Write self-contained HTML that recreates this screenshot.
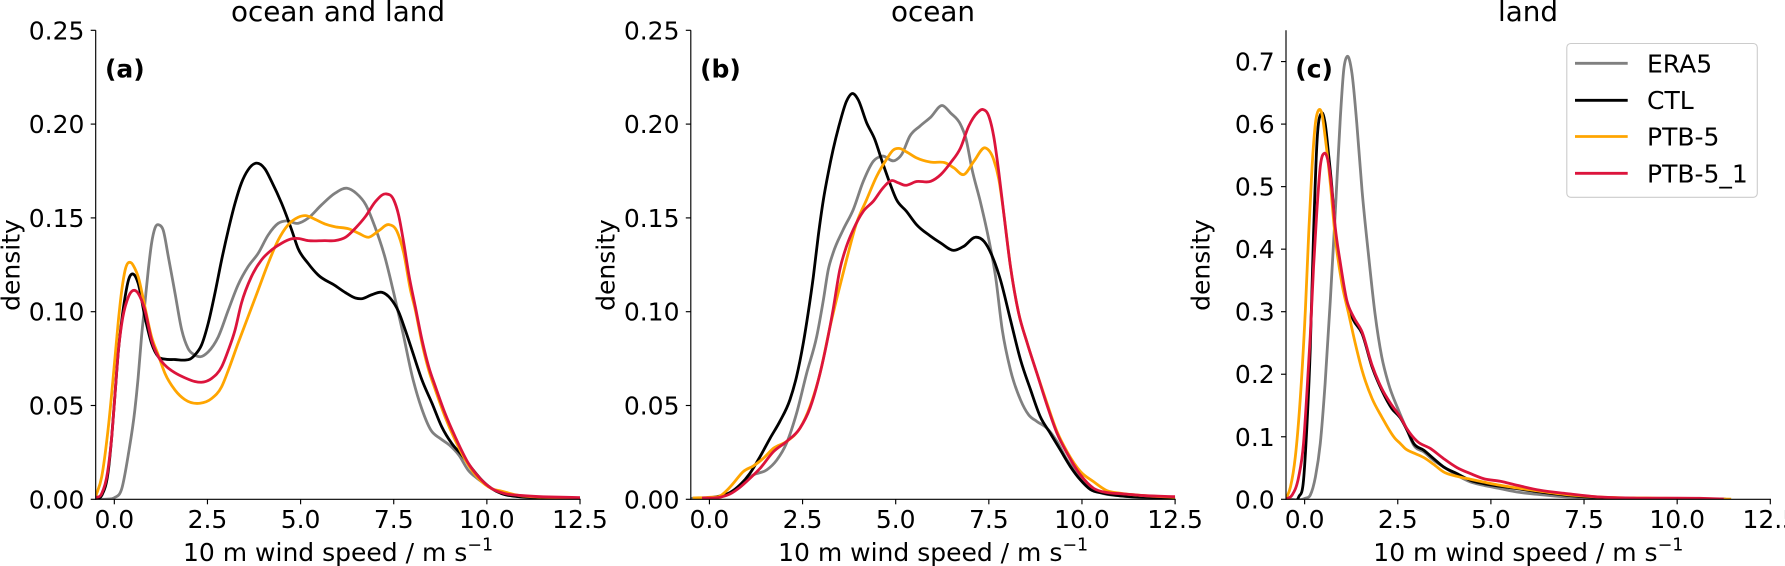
<!DOCTYPE html>
<html lang="en">
<head>
<meta charset="utf-8">
<title>10 m wind speed density</title>
<style>
html,body{margin:0;padding:0;background:#fff;width:1785px;height:566px;overflow:hidden}
svg{display:block}
text{font-family:"DejaVu Sans","Liberation Sans",sans-serif;fill:#000}
</style>
</head>
<body>
<svg id="chart" xmlns="http://www.w3.org/2000/svg" width="1785" height="566" viewBox="0 0 1785 566">
  <rect x="0" y="0" width="1785" height="566" fill="#fff"/>
  <g id="panel-a">
    <text x="338" y="21" font-size="27.8" text-anchor="middle">ocean and land</text>
    <text x="105" y="77.7" font-size="25" font-weight="bold">(a)</text>
    <text transform="translate(19.5,265) rotate(-90)" font-size="25" text-anchor="middle">density</text>
    <text x="183" y="561" font-size="25">10 m wind speed / m s</text>
    <text x="467.3" y="550.7" font-size="17.5">−1</text>
  </g>
  <g id="panel-b">
    <text x="933" y="21" font-size="27.8" text-anchor="middle">ocean</text>
    <text x="700.1" y="77.7" font-size="25" font-weight="bold">(b)</text>
    <text transform="translate(614.5,265) rotate(-90)" font-size="25" text-anchor="middle">density</text>
    <text x="778.1" y="561" font-size="25">10 m wind speed / m s</text>
    <text x="1062.4" y="550.7" font-size="17.5">−1</text>
  </g>
  <g id="panel-c">
    <text x="1528" y="21" font-size="27.8" text-anchor="middle">land</text>
    <text x="1295.3" y="77.7" font-size="25" font-weight="bold">(c)</text>
    <text transform="translate(1209.7,265) rotate(-90)" font-size="25" text-anchor="middle">density</text>
    <text x="1373.3" y="561" font-size="25">10 m wind speed / m s</text>
    <text x="1657.6" y="550.7" font-size="17.5">−1</text>
  </g>
  <g id="legend">
    <rect x="1566.8" y="43.5" width="190.5" height="153.8" rx="4" ry="4" fill="#fff" fill-opacity="0.8" stroke="#ccc" stroke-width="1.1"/>
    <line x1="1575" x2="1627.7" y1="63.3" y2="63.3" stroke="#808080" stroke-width="2.8"/>
    <text x="1647" y="72.3" font-size="25">ERA5</text>
    <line x1="1575" x2="1627.7" y1="100.3" y2="100.3" stroke="#000" stroke-width="2.8"/>
    <text x="1647" y="109" font-size="25">CTL</text>
    <line x1="1575" x2="1627.7" y1="136.5" y2="136.5" stroke="#ffa500" stroke-width="2.8"/>
    <text x="1647" y="145.5" font-size="25">PTB-5</text>
    <line x1="1575" x2="1627.7" y1="173.3" y2="173.3" stroke="#dc143c" stroke-width="2.8"/>
    <text x="1647" y="182.3" font-size="25">PTB-5_1</text>
  </g>
</svg>
<script>
// ---- Tick labels ----
const xTickLabels = ["0.0","2.5","5.0","7.5","10.0","12.5"];
const yTickLabelsDensityWide = ["0.00","0.05","0.10","0.15","0.20","0.25"];
const yTickLabelsDensityTall = ["0.0","0.1","0.2","0.3","0.4","0.5","0.6","0.7"];

// ---- Panel (a) ocean and land ----
const aEra5X = [-0.5,-0.2,0,0.2,0.38,0.55,0.64,0.73,0.82,0.91,1.0,1.09,1.21,1.31,1.45,1.63,1.81,1.98,2.16,2.31,2.52,2.79,3.06,3.32,3.59,3.86,4.13,4.4,4.62,4.93,5.2,5.56,5.92,6.25,6.5,6.75,7,7.25,7.5,7.75,8,8.25,8.5,8.75,9,9.25,9.5,9.75,10,10.25,10.5,11,11.5,12.5];
const aEra5Y = [0,0.0001,0.0008,0.0057,0.0244,0.0475,0.065,0.0866,0.1044,0.122,0.1365,0.1445,0.1462,0.1436,0.1293,0.1098,0.0902,0.0804,0.0769,0.076,0.0786,0.0866,0.1009,0.1142,0.124,0.1311,0.1409,0.1471,0.1484,0.1471,0.1498,0.1569,0.1631,0.1658,0.163,0.157,0.145,0.13,0.11,0.0884,0.0653,0.0484,0.0368,0.0324,0.0288,0.0235,0.0155,0.011,0.0075,0.0044,0.0025,0.0012,0.0006,0.0002];
const aCtlX = [-0.5,-0.34,-0.16,-0.07,0.02,0.11,0.2,0.29,0.38,0.52,0.64,0.82,1,1.18,1.36,1.63,1.89,2.03,2.16,2.34,2.52,2.7,2.88,3.06,3.24,3.41,3.59,3.82,4.04,4.22,4.49,4.76,4.93,5.2,5.47,5.92,6.21,6.47,6.63,6.92,7.19,7.41,7.63,7.81,7.99,8.26,8.53,8.79,9.06,9.33,9.6,9.87,10.13,10.4,10.76,11.3,12.5];
const aCtlY = [0.0004,0.002,0.0155,0.0333,0.0564,0.0795,0.0955,0.108,0.1169,0.1199,0.1151,0.0973,0.0831,0.076,0.0747,0.0745,0.0742,0.0747,0.0769,0.0822,0.0938,0.1098,0.1276,0.1436,0.1578,0.1685,0.1756,0.1792,0.1762,0.1695,0.1578,0.1436,0.1338,0.1258,0.1196,0.114,0.1101,0.1073,0.1069,0.1091,0.1103,0.1071,0.1,0.0902,0.0795,0.0635,0.0511,0.0386,0.0297,0.0235,0.0164,0.0101,0.0057,0.003,0.0016,0.0009,0.0004];
const aPtb5X = [-0.5,-0.34,-0.16,0.02,0.11,0.2,0.29,0.45,0.55,0.64,0.82,1,1.18,1.36,1.63,1.89,2.3,2.61,2.88,3.06,3.32,3.59,3.86,4.13,4.4,4.66,4.93,5.14,5.38,5.65,5.92,6.3,6.56,6.83,7.1,7.37,7.59,7.77,7.95,8.08,8.26,8.44,8.62,8.88,9.15,9.51,9.78,10.13,10.4,10.85,11.47,12.5];
const aPtb5Y = [0.0015,0.0119,0.0386,0.076,0.0955,0.1115,0.1222,0.1261,0.1231,0.1187,0.1026,0.0866,0.0769,0.0671,0.0582,0.0532,0.0512,0.0537,0.06,0.0688,0.0831,0.0973,0.1115,0.1258,0.1382,0.1462,0.1503,0.1512,0.1493,0.1468,0.1453,0.1441,0.1418,0.1397,0.1432,0.1464,0.1427,0.1311,0.1115,0.1009,0.0831,0.0688,0.0582,0.0439,0.0315,0.0181,0.011,0.0057,0.0043,0.0021,0.0012,0.0007];
const aPtb51X = [-0.5,-0.34,-0.16,-0.07,0.02,0.11,0.2,0.38,0.57,0.73,0.82,1,1.18,1.36,1.63,1.89,2.16,2.34,2.61,2.88,3.06,3.24,3.41,3.68,3.95,4.22,4.49,4.75,4.89,5.2,5.65,5.92,6.21,6.47,6.74,7.01,7.29,7.5,7.63,7.77,7.9,8.08,8.26,8.44,8.62,8.88,9.15,9.51,9.78,10.13,10.49,10.94,12.5];
const aPtb51Y = [0.0009,0.003,0.0173,0.0333,0.0564,0.0795,0.0938,0.108,0.1112,0.1062,0.1009,0.0849,0.076,0.0715,0.0674,0.0648,0.0628,0.0624,0.0644,0.0706,0.0795,0.0902,0.1044,0.1187,0.1276,0.1329,0.1365,0.1388,0.1391,0.1379,0.1379,0.1379,0.1397,0.1445,0.1507,0.1587,0.1628,0.1596,0.1516,0.1365,0.1204,0.1026,0.0849,0.0706,0.06,0.0457,0.0333,0.019,0.0119,0.0057,0.003,0.002,0.0009];

// ---- Panel (b) ocean ----
const bEra5X = [-0.5,0.02,0.38,0.64,0.91,1.18,1.54,1.81,2.07,2.34,2.61,2.88,3.06,3.19,3.32,3.59,3.86,4.13,4.4,4.62,4.98,5.16,5.38,5.65,5.94,6.25,6.47,6.74,6.88,7.05,7.28,7.5,7.68,7.86,8.08,8.35,8.57,8.79,9.06,9.33,9.6,9.87,10.13,10.49,11.03,12.5];
const bEra5Y = [0.0005,0.0009,0.0018,0.0046,0.0094,0.013,0.0157,0.021,0.0299,0.0459,0.0672,0.0868,0.1064,0.1224,0.1313,0.1437,0.1544,0.1695,0.1802,0.1829,0.1806,0.1838,0.1936,0.1989,0.2037,0.2099,0.206,0.1998,0.1927,0.1758,0.158,0.1384,0.1188,0.0904,0.069,0.053,0.045,0.0415,0.0379,0.0308,0.021,0.0139,0.0076,0.0036,0.0018,0.0007];
const bCtlX = [-0.4,0.02,0.29,0.55,0.82,1.09,1.36,1.63,1.89,2.16,2.34,2.52,2.65,2.79,2.92,3.06,3.19,3.32,3.5,3.68,3.84,3.99,4.22,4.44,4.62,4.84,5.02,5.29,5.56,5.92,6.21,6.56,6.83,7.14,7.37,7.63,7.81,8.08,8.35,8.62,8.88,9.15,9.42,9.69,9.96,10.22,10.58,11.03,11.65,12.5];
const bCtlY = [0.0005,0.0009,0.0018,0.0036,0.0076,0.0139,0.0228,0.0326,0.0415,0.053,0.0655,0.0833,0.0993,0.1188,0.1402,0.1598,0.174,0.1864,0.2007,0.2122,0.2163,0.2131,0.2007,0.1918,0.1811,0.1687,0.1598,0.1535,0.1464,0.1405,0.1366,0.1327,0.1349,0.1397,0.1375,0.1277,0.1171,0.0957,0.0744,0.0584,0.0441,0.0352,0.0263,0.0174,0.0103,0.0053,0.0032,0.0018,0.0011,0.0005];
const bPtb5X = [-0.45,0.02,0.29,0.46,0.64,0.91,1.18,1.45,1.72,2.07,2.43,2.7,2.97,3.24,3.41,3.68,3.95,4.22,4.49,4.75,4.93,5.11,5.29,5.56,5.94,6.34,6.56,6.83,7.1,7.41,7.63,7.77,7.9,8.08,8.3,8.53,8.79,9.06,9.33,9.6,9.96,10.31,10.67,11.03,11.65,12.5];
const bPtb5Y = [0.0007,0.0011,0.0018,0.0046,0.0085,0.0148,0.0178,0.0219,0.0272,0.0308,0.0379,0.0495,0.0672,0.0922,0.1064,0.1277,0.1473,0.1598,0.1722,0.1811,0.1861,0.187,0.1852,0.182,0.1797,0.1793,0.1767,0.1731,0.1802,0.1873,0.1811,0.1704,0.1526,0.1242,0.0993,0.0833,0.0672,0.0512,0.0361,0.0254,0.0148,0.0094,0.0046,0.0032,0.002,0.0011];
const bPtb51X = [-0.2,0.29,0.55,0.82,1.09,1.36,1.72,2.07,2.43,2.7,2.97,3.15,3.32,3.5,3.68,3.86,4.13,4.4,4.66,4.89,5.07,5.25,5.56,5.94,6.21,6.47,6.74,6.96,7.19,7.34,7.5,7.63,7.77,7.9,8.08,8.3,8.53,8.79,9.06,9.33,9.6,9.96,10.31,10.67,11.03,11.65,12.5];
const bPtb51Y = [0.0007,0.0011,0.0028,0.0064,0.0112,0.0165,0.0254,0.0308,0.0379,0.0486,0.0672,0.0833,0.1011,0.1224,0.1349,0.1437,0.1535,0.1589,0.166,0.1699,0.1687,0.1674,0.1694,0.1695,0.1731,0.1793,0.1873,0.1989,0.206,0.2078,0.2042,0.1936,0.174,0.1526,0.1242,0.0993,0.0833,0.0672,0.0503,0.0352,0.0246,0.013,0.0059,0.0036,0.003,0.002,0.0014];

// ---- Panel (c) land ----
const cEra5X = [-0.5,0.02,0.15,0.29,0.42,0.55,0.69,0.82,0.96,1.05,1.14,1.27,1.4,1.54,1.72,1.89,2.07,2.25,2.52,2.75,2.93,3.2,3.46,3.73,4.09,4.45,4.8,5.25,5.7,6.32,7.04,7.93,8.82,11];
const cEra5Y = [0.0005,0.0016,0.0064,0.0358,0.0891,0.1852,0.3186,0.456,0.612,0.6868,0.7081,0.6814,0.6014,0.4947,0.3879,0.2966,0.2279,0.1852,0.1425,0.1105,0.0864,0.0758,0.0624,0.0518,0.0384,0.0277,0.0224,0.0171,0.0117,0.0075,0.0037,0.0016,0.0005,0.0001];
const cCtlX = [-0.5,-0.16,-0.03,0.06,0.15,0.24,0.33,0.45,0.55,0.64,0.73,0.82,0.96,1.13,1.31,1.54,1.81,2.07,2.34,2.57,2.75,2.93,3.2,3.46,3.73,4.09,4.45,4.8,5.25,5.7,6.32,7.04,7.93,8.82,10.6,11.3];
const cCtlY = [0.0005,0.0037,0.0304,0.1158,0.2385,0.4253,0.5694,0.6174,0.6014,0.5534,0.5,0.4306,0.3666,0.3132,0.2866,0.2652,0.2118,0.1745,0.1451,0.13,0.1105,0.0891,0.0784,0.0651,0.0518,0.0411,0.0304,0.0251,0.0208,0.0171,0.0117,0.0064,0.0027,0.0011,0.0005,0.0002];
const cPtb5X = [-0.5,-0.38,-0.25,-0.12,0.02,0.11,0.2,0.29,0.38,0.47,0.55,0.69,0.82,1,1.18,1.36,1.54,1.81,2.07,2.43,2.57,2.7,2.97,3.2,3.46,3.73,4.09,4.45,4.8,5.25,5.7,6.32,7.04,7.93,9.71,11.45];
const cPtb5Y = [0.0005,0.0197,0.0678,0.1585,0.3026,0.4253,0.532,0.6014,0.6227,0.6147,0.58,0.5053,0.42,0.3453,0.2972,0.2492,0.2065,0.1612,0.1318,0.0971,0.0891,0.0811,0.0731,0.0667,0.056,0.0438,0.0368,0.032,0.0277,0.0224,0.0181,0.0128,0.0075,0.0037,0.0016,0.0003];
const cPtb51X = [-0.5,-0.34,-0.16,-0.03,0.06,0.15,0.24,0.33,0.42,0.53,0.64,0.73,0.82,0.96,1.13,1.31,1.54,1.81,2.07,2.34,2.57,2.75,3.02,3.38,3.73,4.09,4.45,4.8,5.25,5.7,6.32,7.04,7.93,8.82,10.6,11.25];
const cPtb51Y = [0.0005,0.0064,0.0358,0.0891,0.1692,0.2599,0.3719,0.4626,0.532,0.5534,0.5373,0.4947,0.436,0.3773,0.3186,0.2919,0.2679,0.2145,0.1772,0.1505,0.1315,0.1125,0.0928,0.0811,0.0651,0.0507,0.0411,0.0331,0.0288,0.0224,0.0144,0.0091,0.0037,0.0021,0.0016,0.0005];

// ---- Drawing ----
const SVGNS = "http://www.w3.org/2000/svg";
const chartSvg = document.getElementById("chart");
const legendGroup = document.getElementById("legend");

const seriesStyles = [
  {key:"era5", color:"#808080"},
  {key:"ctl", color:"#000000"},
  {key:"ptb-5", color:"#ffa500"},
  {key:"ptb-5-1", color:"#dc143c"}
];

const panels = [
  {id:"a", left:95.7, right:580, top:30.3, bottom:499.3, yMax:0.25, yTicks:yTickLabelsDensityWide,
   series:[[aEra5X,aEra5Y],[aCtlX,aCtlY],[aPtb5X,aPtb5Y],[aPtb51X,aPtb51Y]]},
  {id:"b", left:690.8, right:1175.1, top:30.3, bottom:499.3, yMax:0.25, yTicks:yTickLabelsDensityWide,
   series:[[bEra5X,bEra5Y],[bCtlX,bCtlY],[bPtb5X,bPtb5Y],[bPtb51X,bPtb51Y]]},
  {id:"c", left:1286, right:1770.3, top:30.3, bottom:499.3, yMax:0.75, yTicks:yTickLabelsDensityTall,
   series:[[cEra5X,cEra5Y],[cCtlX,cCtlY],[cPtb5X,cPtb5Y],[cPtb51X,cPtb51Y]]}
];

function make(tag, attrs, parent) {
  const el = document.createElementNS(SVGNS, tag);
  for (const k in attrs) el.setAttribute(k, attrs[k]);
  parent.appendChild(el);
  return el;
}

// Smooth cubic path through points using three-point parabolic tangents
function smoothPath(px, py) {
  const n = px.length;
  const m = new Array(n - 1), t = new Array(n).fill(0);
  for (let i = 0; i < n - 1; i++) m[i] = (py[i + 1] - py[i]) / (px[i + 1] - px[i]);
  t[0] = m[0];
  t[n - 1] = m[n - 2];
  for (let i = 1; i < n - 1; i++) {
    const h0 = px[i] - px[i - 1], h1 = px[i + 1] - px[i];
    t[i] = (h1 * m[i - 1] + h0 * m[i]) / (h0 + h1);
  }
  let d = "M" + px[0].toFixed(2) + " " + py[0].toFixed(2);
  for (let i = 0; i < n - 1; i++) {
    const h = (px[i + 1] - px[i]) / 3;
    d += "C" + (px[i] + h).toFixed(2) + " " + (py[i] + h * t[i]).toFixed(2) + " " +
         (px[i + 1] - h).toFixed(2) + " " + (py[i + 1] - h * t[i + 1]).toFixed(2) + " " +
         px[i + 1].toFixed(2) + " " + py[i + 1].toFixed(2);
  }
  return d;
}

panels.forEach(function (p) {
  const group = document.getElementById("panel-" + p.id);
  const xMin = -0.5, xMax = 12.5;
  const xScale = function (v) { return p.left + (v - xMin) / (xMax - xMin) * (p.right - p.left); };
  const yScale = function (v) { return p.bottom - v / p.yMax * (p.bottom - p.top); };

  const clip = make("clipPath", {id: "clip-" + p.id}, group);
  make("rect", {x: p.left, y: p.top, width: p.right - p.left, height: p.bottom - p.top}, clip);

  p.series.forEach(function (pair, i) {
    const d = smoothPath(pair[0].map(xScale), pair[1].map(yScale));
    const path = make("path", {d: d, fill: "none", stroke: seriesStyles[i].color, "stroke-width": 2.8,
      "stroke-linejoin": "round", "clip-path": "url(#clip-" + p.id + ")"}, group);
    
    
  });

  xTickLabels.forEach(function (label) {
    const x = xScale(Number(label));
    const tick = make("line", {x1: x, x2: x, y1: p.bottom, y2: p.bottom + 5, stroke: "#000", "stroke-width": 1.15}, group);
    
    
    const txt = make("text", {x: x, y: 528, "font-size": 25, "text-anchor": "middle"}, group);
    
    
    txt.textContent = label;
  });

  p.yTicks.forEach(function (label) {
    const y = yScale(Number(label));
    const tick = make("line", {x1: p.left - 5, x2: p.left, y1: y, y2: y, stroke: "#000", "stroke-width": 1.15}, group);
    
    
    const txt = make("text", {x: p.left - 11.3, y: y + 9, "font-size": 25, "text-anchor": "end"}, group);
    
    
    txt.textContent = label;
  });

  const spineLeft = make("line", {x1: p.left, x2: p.left, y1: p.top, y2: p.bottom + 0.6, stroke: "#000", "stroke-width": 1.15}, group);
  
  
  const spineBottom = make("line", {x1: p.left - 0.6, x2: p.right + 0.6, y1: p.bottom, y2: p.bottom, stroke: "#000", "stroke-width": 1.15}, group);
  
  
});

// Keep the legend above panel contents
chartSvg.appendChild(legendGroup);
</script>
</body>
</html>
